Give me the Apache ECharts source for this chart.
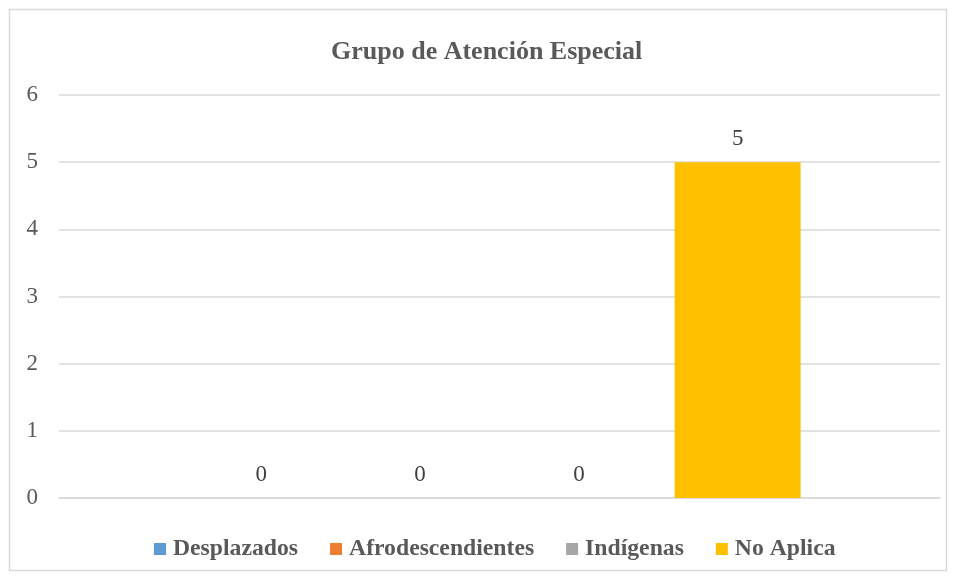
<!DOCTYPE html>
<html>
<head>
<meta charset="utf-8">
<script src="https://cdn.jsdelivr.net/npm/echarts@6/dist/echarts.min.js"></script>
<style>
  html, body { margin: 0; padding: 0; background: #fff; }
  #chart { width: 956px; height: 580px; }
</style>
</head>
<body>
<div id="chart"></div>
<script>
// datos del gráfico
var categorias = [''];
var series = ['Desplazados', 'Afrodescendientes', 'Indígenas', 'No Aplica'];
var valores = [0, 0, 0, 5];
var colores = ['#5B9BD5', '#ED7D31', '#A5A5A5', '#FFC000'];
var ticksY = [0, 1, 2, 3, 4, 5, 6];

var fuente = '"Liberation Serif", "Times New Roman", serif';

var myChart = echarts.init(document.getElementById('chart'));

myChart.setOption({
  animation: false,
  title: {
    text: 'Grupo de Atención Especial',
    left: 326,
    top: 34,
    textStyle: { fontFamily: fuente, fontSize: 26, fontWeight: 'bold', color: '#595959' }
  },
  // borde del gráfico
  graphic: [{
    type: 'rect',
    shape: { x: 9.5, y: 9.5, width: 937, height: 561 },
    style: { fill: 'none', stroke: '#d9d9d9', lineWidth: 1.5 },
    silent: true
  }],
  legend: {
    data: series,
    bottom: 14,
    left: 149,
    itemWidth: 12,
    itemHeight: 12,
    itemGap: 32,
    icon: 'rect',
    textStyle: { fontFamily: fuente, fontSize: 23.7, fontWeight: 'bold', color: '#595959', padding: [0, 0, 0, 2] }
  },
  grid: { left: 59, right: 16, top: 95, bottom: 82, containLabel: false },
  xAxis: {
    type: 'category',
    data: categorias,
    axisLine: { lineStyle: { color: '#d9d9d9', width: 1.5 } },
    axisTick: { show: false },
    axisLabel: { show: false }
  },
  yAxis: {
    type: 'value',
    min: ticksY[0],
    max: ticksY[ticksY.length - 1],
    interval: 1,
    axisLine: { show: false },
    axisTick: { show: false },
    axisLabel: { margin: 21, fontFamily: fuente, fontSize: 23, color: '#595959' },
    splitLine: { lineStyle: { color: '#d9d9d9', width: 1.5 } }
  },
  series: series.map(function (nombre, i) {
    return {
      name: nombre,
      type: 'bar',
      barWidth: 126,
      barGap: '26%',
      data: [valores[i]],
      itemStyle: { color: colores[i] },
      label: {
        show: true,
        position: 'top',
        distance: 12,
        fontFamily: fuente,
        fontSize: 23,
        color: '#404040'
      }
    };
  })
});
</script>
</body>
</html>
